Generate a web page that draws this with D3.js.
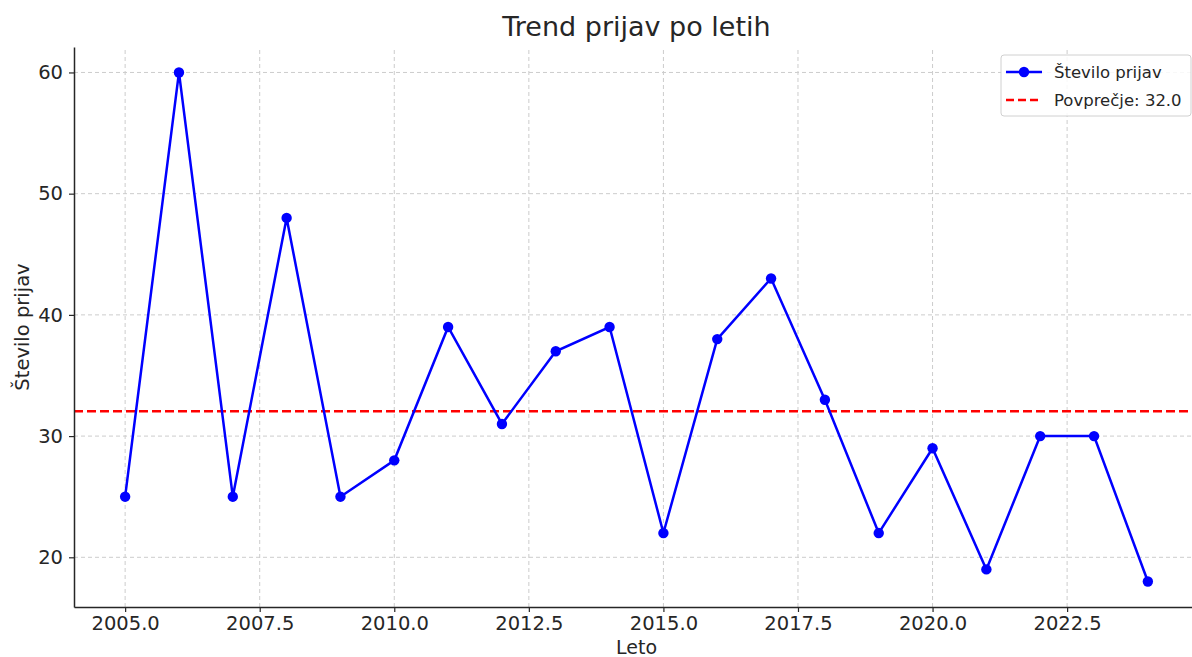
<!DOCTYPE html>
<html>
<head>
<meta charset="utf-8">
<script src="https://cdn.jsdelivr.net/npm/d3@7"></script>
<style>
  body { margin: 0; background: #fff; }
  text { font-family: "DejaVu Sans", sans-serif; fill: #262626; }
</style>
</head>
<body>
<div id="vis"></div>
<script>
// data
const years = [2005, 2006, 2007, 2008, 2009, 2010, 2011, 2012, 2013, 2014,
               2015, 2016, 2017, 2018, 2019, 2020, 2021, 2022, 2023, 2024];
const counts = [25, 60, 25, 48, 25, 28, 39, 31, 37, 39,
                22, 38, 43, 33, 22, 29, 19, 30, 30, 18];
const xTicks = [2005, 2007.5, 2010, 2012.5, 2015, 2017.5, 2020, 2022.5];
const yTicks = [20, 30, 40, 50, 60];
const meanLabel = "32.0";

const width = 1192, height = 657;
const margin = {left: 74, right: -7, top: 47, bottom: 50};

const svg = d3.select("#vis").append("svg")
  .attr("width", width)
  .attr("height", height);

const mean = d3.mean(counts);

// matplotlib-like 5% padding
const xr = d3.extent(years), yr = d3.extent(counts);
const xpad = (xr[1] - xr[0]) * 0.05, ypad = (yr[1] - yr[0]) * 0.05;

const x = d3.scaleLinear()
  .domain([xr[0] - xpad, xr[1] + xpad])
  .range([margin.left, width - margin.right]);
const y = d3.scaleLinear()
  .domain([yr[0] - ypad, yr[1] + ypad])
  .range([height - margin.bottom, margin.top]);

// grid
const grid = svg.append("g").attr("class", "grid");
grid.selectAll(".gx").data(xTicks).enter().append("line")
  .attr("x1", d => x(d)).attr("x2", d => x(d))
  .attr("y1", y.range()[0]).attr("y2", y.range()[1])
  .attr("stroke", "#cccccc").attr("stroke-width", 1).attr("stroke-dasharray", "4,3");
grid.selectAll(".gy").data(yTicks).enter().append("line")
  .attr("x1", x.range()[0]).attr("x2", x.range()[1])
  .attr("y1", d => y(d)).attr("y2", d => y(d))
  .attr("stroke", "#cccccc").attr("stroke-width", 1).attr("stroke-dasharray", "4,3");

// mean line
svg.append("line")
  .attr("x1", x.range()[0]).attr("x2", x.range()[1])
  .attr("y1", y(mean)).attr("y2", y(mean))
  .attr("stroke", "red").attr("stroke-width", 2.6).attr("stroke-dasharray", "9,4");

// data line
const line = d3.line().x((d, i) => x(years[i])).y(d => y(d));
svg.append("path")
  .datum(counts)
  .attr("d", line)
  .attr("fill", "none")
  .attr("stroke", "blue")
  .attr("stroke-width", 2.5);

svg.selectAll("circle.pt").data(counts).enter().append("circle")
  .attr("class", "pt")
  .attr("cx", (d, i) => x(years[i]))
  .attr("cy", d => y(d))
  .attr("r", 5.2)
  .attr("fill", "blue");

// axes
const xAxis = svg.append("g")
  .attr("transform", `translate(0,${y.range()[0]})`)
  .call(d3.axisBottom(x).tickValues(xTicks).tickFormat(d3.format(".1f"))
    .tickSizeInner(5).tickSizeOuter(0).tickPadding(4));
const yAxis = svg.append("g")
  .attr("transform", `translate(${margin.left},0)`)
  .call(d3.axisLeft(y).tickValues(yTicks).tickSizeInner(5).tickSizeOuter(0).tickPadding(6));

[xAxis, yAxis].forEach(a => {
  a.select(".domain").attr("stroke", "#262626").attr("stroke-width", 1.5);
  a.selectAll(".tick line").attr("stroke", "#262626").attr("stroke-width", 1.2);
  a.selectAll(".tick text").attr("font-size", 19.5).attr("fill", "#262626")
    .style("font-family", "'DejaVu Sans', sans-serif");
});

// labels
svg.append("text")
  .attr("x", (x.range()[0] + x.range()[1]) / 2).attr("y", 36)
  .attr("text-anchor", "middle").attr("font-size", 27)
  .text("Trend prijav po letih");
svg.append("text")
  .attr("x", (x.range()[0] + x.range()[1]) / 2).attr("y", 654)
  .attr("text-anchor", "middle").attr("font-size", 19)
  .text("Leto");
svg.append("text")
  .attr("transform", `translate(29,${(y.range()[0] + y.range()[1]) / 2}) rotate(-90)`)
  .attr("text-anchor", "middle").attr("font-size", 19.5)
  .text("Število prijav");

// legend
const lg = svg.append("g").attr("transform", "translate(1001,55)");
lg.append("rect")
  .attr("width", 190).attr("height", 61).attr("rx", 3)
  .attr("fill", "white").attr("fill-opacity", 0.85)
  .attr("stroke", "#d0d0d0");
lg.append("line").attr("x1", 5).attr("x2", 41).attr("y1", 17).attr("y2", 17)
  .attr("stroke", "blue").attr("stroke-width", 2.5);
lg.append("circle").attr("cx", 23).attr("cy", 17).attr("r", 5.2).attr("fill", "blue");
lg.append("text").attr("x", 53).attr("y", 23).attr("font-size", 16.5).text("Število prijav");
lg.append("line").attr("x1", 5).attr("x2", 41).attr("y1", 45).attr("y2", 45)
  .attr("stroke", "red").attr("stroke-width", 2.5).attr("stroke-dasharray", "8,4");
lg.append("text").attr("x", 53).attr("y", 51).attr("font-size", 16.5).text("Povprečje: " + meanLabel);
</script>
</body>
</html>
